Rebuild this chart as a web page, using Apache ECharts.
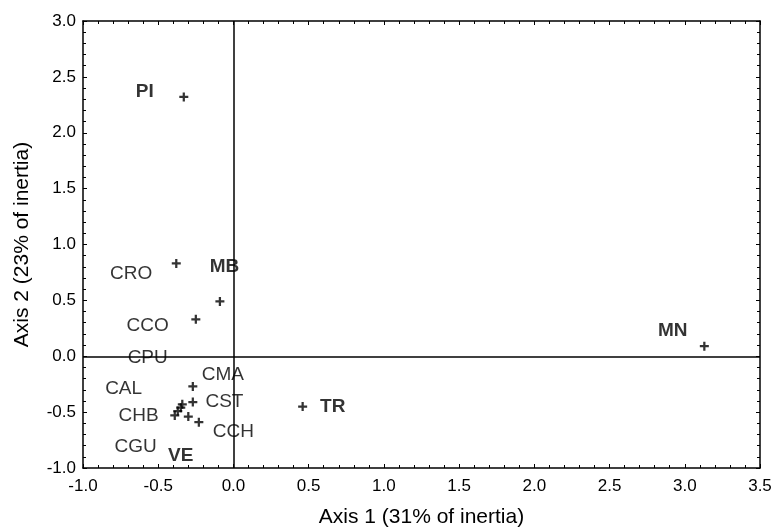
<!DOCTYPE html>
<html>
<head>
<meta charset="utf-8">
<script src="https://cdn.jsdelivr.net/npm/echarts@6/dist/echarts.min.js"></script>
<style>
  html, body { margin: 0; padding: 0; background: #fff; }
  #chart { width: 771px; height: 528px; }
</style>
</head>
<body>
<div id="chart"></div>
<script>
// point coordinates (axis 1, axis 2)
const pointX = [-0.33, -0.38, -0.09, -0.25, -0.27, -0.27, -0.34, -0.35, -0.37, -0.39, -0.30, -0.23, 0.46, 3.13];
const pointY = [2.32, 0.83, 0.49, 0.33, -0.27, -0.41, -0.43, -0.46, -0.49, -0.53, -0.54, -0.59, -0.45, 0.09];

// labels and where they sit
const labelNames = ['PI', 'CRO', 'MB', 'CCO', 'CPU', 'CMA', 'CAL', 'CST', 'CHB', 'CCH', 'CGU', 'VE', 'TR', 'MN'];
const labelX = [-0.59, -0.68, -0.06, -0.57, -0.57, -0.07, -0.73, -0.06, -0.63, 0.0, -0.65, -0.35, 0.66, 2.92];
const labelY = [2.37, 0.74, 0.80, 0.27, -0.01, -0.17, -0.29, -0.41, -0.53, -0.68, -0.81, -0.89, -0.455, 0.23];
const boldLabels = ['PI', 'MB', 'VE', 'TR', 'MN'];

const xTicks = { min: -1, max: 3.5, interval: 0.5 };
const yTicks = { min: -1, max: 3, interval: 0.5 };

const font = "'Liberation Sans', Arial, sans-serif";
const plus = 'path://M-1,-4L1,-4L1,-1L4,-1L4,1L1,1L1,4L-1,4L-1,1L-4,1L-4,-1L-1,-1Z';

const lineStyle = { color: '#000', width: 1.5 };

function axisCommon(showLabels, margin) {
    return {
        axisLine: { show: true, onZero: false, lineStyle: lineStyle },
        axisTick: { show: true, inside: true, length: 4, lineStyle: { color: '#000', width: 1 } },
        minorTick: { show: true, splitNumber: 5, length: 3, lineStyle: { color: '#000', width: 1 } },
        splitLine: { show: false },
        axisLabel: {
            show: showLabels,
            margin: margin || 8,
            color: '#000',
            fontSize: 17,
            fontFamily: font,
            formatter: v => v.toFixed(1)
        }
    };
}

const chart = echarts.init(document.getElementById('chart'));
chart.setOption({
    backgroundColor: '#fff',
    animation: false,
    grid: { left: 83, right: 11, top: 21, bottom: 60, containLabel: false, outerBoundsMode: 'none' },
    xAxis: [
        Object.assign({
            type: 'value', position: 'bottom', ...xTicks,
            name: 'Axis 1 (31% of inertia)', nameLocation: 'middle', nameGap: 39,
            nameTextStyle: { color: '#000', fontSize: 21, fontFamily: font }
        }, axisCommon(true, 10)),
        Object.assign({ type: 'value', position: 'top', ...xTicks }, axisCommon(false))
    ],
    yAxis: [
        Object.assign({
            type: 'value', position: 'left', ...yTicks,
            name: 'Axis 2 (23% of inertia)', nameLocation: 'middle', nameGap: 50,
            nameTextStyle: { color: '#000', fontSize: 21, fontFamily: font }
        }, axisCommon(true, 7)),
        Object.assign({ type: 'value', position: 'right', ...yTicks }, axisCommon(false))
    ],
    series: [
        {
            type: 'scatter',
            symbol: plus,
            symbolSize: 9,
            itemStyle: { color: '#000' },
            data: pointX.map((x, i) => [x, pointY[i]]),
            markLine: {
                silent: true,
                symbol: 'none',
                label: { show: false },
                lineStyle: { color: '#000', width: 1.5, type: 'solid' },
                data: [{ xAxis: 0 }, { yAxis: 0 }]
            },
            z: 3
        },
        {
            type: 'scatter',
            symbolSize: 0,
            silent: true,
            data: labelNames.map((n, i) => ({
                name: n,
                value: [labelX[i], labelY[i]],
                label: { fontWeight: boldLabels.includes(n) ? 'bold' : 'normal' }
            })),
            label: {
                show: true,
                position: 'inside',
                formatter: p => p.name,
                color: '#000',
                fontSize: 19,
                fontFamily: font
            },
            z: 4
        }
    ]
});
</script>
</body>
</html>
